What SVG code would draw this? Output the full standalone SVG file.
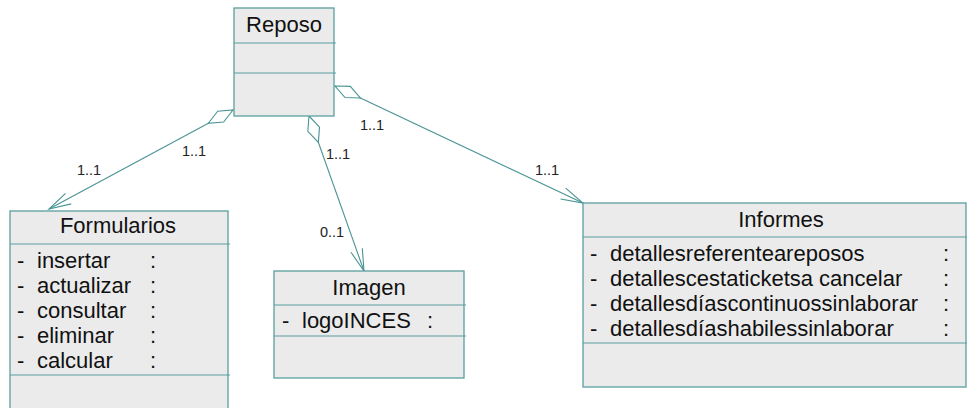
<svg xmlns="http://www.w3.org/2000/svg" width="967" height="408" viewBox="0 0 967 408">
<style>
.box{fill:#ebebeb;stroke:#5a9e9e;stroke-width:1.3}
.div{stroke:#5a9e9e;stroke-width:1.2}
.t{font-family:"Liberation Sans",Arial,sans-serif;font-size:22px;fill:#111}
.c{text-anchor:middle}
.lbl{font-family:"Liberation Sans",Arial,sans-serif;font-size:14.5px;fill:#222}
.conn{stroke:#4a9494;stroke-width:1.1;fill:none}
</style>
<defs>
<marker id="open" markerUnits="userSpaceOnUse" orient="auto" refX="0" refY="0" markerWidth="1" markerHeight="1" overflow="visible">
<path d="M-22,-6 L0,0 L-22,6" fill="none" stroke="#4a9494" stroke-width="1.1"/>
</marker>
<marker id="dia" markerUnits="userSpaceOnUse" orient="auto" refX="0" refY="0" markerWidth="1" markerHeight="1" overflow="visible">
<path d="M0,0 L14,-6.2 L28,0 L14,6.2 Z" fill="#ffffff" stroke="#4a9494" stroke-width="1.1"/>
</marker>
</defs>
<g id="connectors">
<line class="conn" x1="233" y1="110" x2="49" y2="209" marker-start="url(#dia)" marker-end="url(#open)"/>
<line class="conn" x1="309" y1="116" x2="364" y2="271" marker-start="url(#dia)" marker-end="url(#open)"/>
<line class="conn" x1="335" y1="86" x2="583" y2="203" marker-start="url(#dia)" marker-end="url(#open)"/>
<text class="lbl" x="77" y="175">1..1</text>
<text class="lbl" x="182" y="156">1..1</text>
<text class="lbl" x="326" y="159">1..1</text>
<text class="lbl" x="320" y="237">0..1</text>
<text class="lbl" x="360" y="130">1..1</text>
<text class="lbl" x="535" y="175">1..1</text>
</g>
<g id="Reposo">
<rect class="box" x="234" y="8" width="100" height="108"/>
<line class="div" x1="234" y1="43" x2="336" y2="43"/>
<line class="div" x1="234" y1="73" x2="336" y2="73"/>
<text class="t c" x="284" y="32">Reposo</text>
</g>
<g id="Formularios">
<rect class="box" x="10" y="211" width="218" height="210"/>
<line class="div" x1="10" y1="244" x2="230" y2="244"/>
<line class="div" x1="10" y1="375" x2="230" y2="375"/>
<text class="t c" x="118" y="233">Formularios</text>
<text class="t" x="17" y="268">-</text><text class="t" x="37" y="268">insertar</text><text class="t" x="150" y="268">:</text>
<text class="t" x="17" y="293">-</text><text class="t" x="37" y="293">actualizar</text><text class="t" x="150" y="293">:</text>
<text class="t" x="17" y="318">-</text><text class="t" x="37" y="318">consultar</text><text class="t" x="150" y="318">:</text>
<text class="t" x="17" y="343">-</text><text class="t" x="37" y="343">eliminar</text><text class="t" x="150" y="343">:</text>
<text class="t" x="17" y="368">-</text><text class="t" x="37" y="368">calcular</text><text class="t" x="150" y="368">:</text>
</g>
<g id="Imagen">
<rect class="box" x="274" y="271" width="190" height="107"/>
<line class="div" x1="274" y1="305" x2="466" y2="305"/>
<line class="div" x1="274" y1="336" x2="466" y2="336"/>
<text class="t c" x="369" y="295">Imagen</text>
<text class="t" x="282" y="328">-</text><text class="t" x="302" y="328">logoINCES</text><text class="t" x="427" y="328">:</text>
</g>
<g id="Informes">
<rect class="box" x="583" y="203" width="383" height="184"/>
<line class="div" x1="583" y1="237" x2="967" y2="237"/>
<line class="div" x1="583" y1="343" x2="967" y2="343"/>
<text class="t c" x="781" y="227">Informes</text>
<text class="t" x="590" y="261">-</text><text class="t" x="610" y="261">detallesreferenteareposos</text><text class="t" x="943" y="261">:</text>
<text class="t" x="590" y="286">-</text><text class="t" x="610" y="286">detallescestaticketsa cancelar</text><text class="t" x="943" y="286">:</text>
<text class="t" x="590" y="311">-</text><text class="t" x="610" y="311">detallesdíascontinuossinlaborar</text><text class="t" x="943" y="311">:</text>
<text class="t" x="590" y="336">-</text><text class="t" x="610" y="336">detallesdíashabilessinlaborar</text><text class="t" x="943" y="336">:</text>
</g>
</svg>
